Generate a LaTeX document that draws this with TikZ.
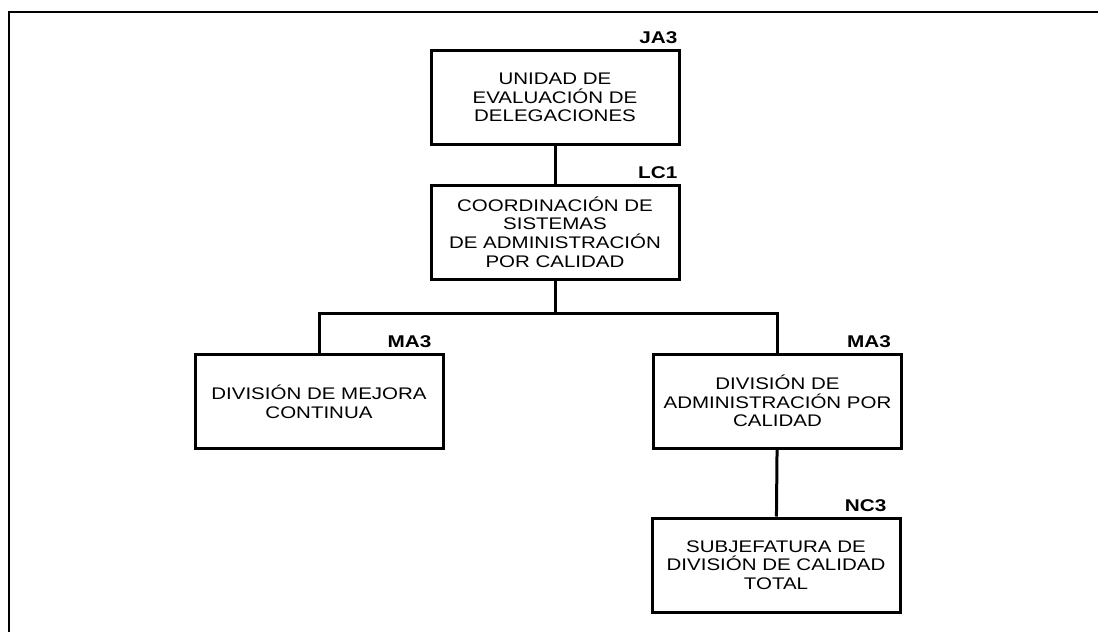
\documentclass[tikz,border=0pt]{standalone}
\usepackage{fontspec}
\newfontfamily\orgfont[FakeStretch=1.22]{Liberation Sans}
\usepackage{tikz}
\usetikzlibrary{positioning,calc}

\begin{document}
\begin{tikzpicture}[x=1pt, y=-1pt,
    unit/.style={rectangle, draw, line width=3pt, minimum width=248pt, minimum height=94pt, inner sep=0pt, align=center, font=\orgfont\fontsize{16.8}{18.6}\selectfont},
    code/.style={anchor=south east, inner sep=0pt, font=\orgfont\bfseries\fontsize{17}{18}\selectfont},
    link/.style={line width=3pt}
]
\useasboundingbox (0,0) rectangle (1098,632);
\draw[line width=2.5pt] (1098,12) -- (9,12) -- (9,632);

\node[unit] (ued) at (555,97.5) {UNIDAD DE\\EVALUACIÓN DE\\DELEGACIONES};
\node[code] at ($(ued.north east)+(-3,-5)$) {JA3};
\node[unit] (csa) at (555,232) {COORDINACIÓN DE\\SISTEMAS\\DE ADMINISTRACIÓN\\POR CALIDAD};
\node[code] at ($(csa.north east)+(-3,-5)$) {LC1};
\node[unit] (dmc) at (319,401.5) {DIVISIÓN DE MEJORA\\CONTINUA};
\node[code] at ($(dmc.north east)+(-13,-5)$) {MA3};
\node[unit] (dac) at (777.5,401) {DIVISIÓN DE\\ADMINISTRACIÓN POR\\CALIDAD};
\node[code] at ($(dac.north east)+(-12,-5)$) {MA3};
\node[unit] (sdc) at (776,565) {SUBJEFATURA DE\\DIVISIÓN DE CALIDAD\\TOTAL};
\node[code] at ($(sdc.north east)+(-15,-5)$) {NC3};

\coordinate (bar) at (555,313);
\draw[link] (ued) -- (csa);
\draw[link] (csa) -- (bar);
\draw[link] (dmc.north) -- (dmc.north |- bar) -- (dac.north |- bar) -- (dac.north);
\draw[link] (dac) -- (sdc);
\end{tikzpicture}
\end{document}
